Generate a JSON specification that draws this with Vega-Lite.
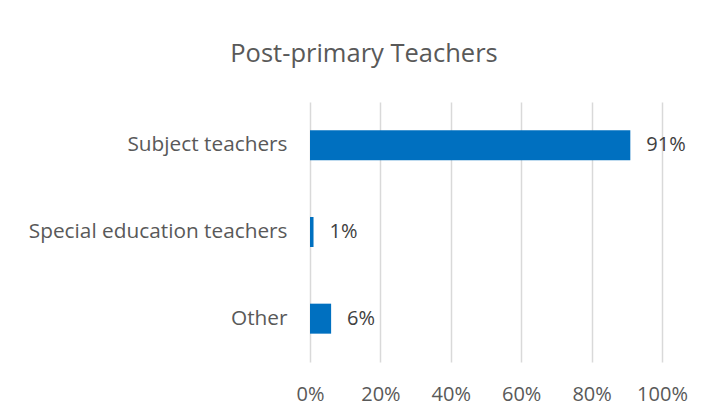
{
  "$schema": "https://vega.github.io/schema/vega-lite/v6.json",
  "autosize": "none",
  "width": 352,
  "height": 260,
  "padding": {"left": 310, "top": 102, "right": 47, "bottom": 55},
  "background": "white",
  "data": {"values": [
    {"category": "Subject teachers", "share": 0.91},
    {"category": "Special education teachers", "share": 0.01},
    {"category": "Other", "share": 0.06}
  ]},
  "title": {
    "text": "Post-primary Teachers",
    "font": "Open Sans",
    "fontSize": 25.5,
    "fontWeight": "normal",
    "color": "#595959",
    "anchor": "middle",
    "frame": "group",
    "dx": -122,
    "baseline": "alphabetic",
    "offset": 15
  },
  "encoding": {
    "y": {
      "field": "category",
      "type": "nominal",
      "sort": null,
      "scale": {"paddingInner": 0.654, "paddingOuter": 0.327},
      "axis": {
        "title": null,
        "ticks": false,
        "domain": false,
        "labelPadding": 23,
        "labelFont": "Open Sans",
        "labelFontSize": 20.8,
        "labelColor": "#595959",
        "labelLimit": 400
      }
    },
    "x": {
      "field": "share",
      "type": "quantitative",
      "scale": {"domain": [0, 1], "nice": false},
      "axis": {
        "title": null,
        "format": ".0%",
        "values": [0, 0.2, 0.4, 0.6, 0.8, 1],
        "ticks": false,
        "domain": false,
        "grid": true,
        "gridColor": "#d9d9d9",
        "gridWidth": 1.5,
        "labelPadding": 22,
        "labelFont": "Open Sans",
        "labelFontSize": 20,
        "labelColor": "#595959",
        "labelFlush": false
      }
    }
  },
  "layer": [
    {"mark": {"type": "bar", "color": "#0070C0"}},
    {
      "mark": {"type": "text", "align": "left", "baseline": "middle", "dx": 16, "font": "Open Sans", "fontSize": 20, "color": "#404040"},
      "encoding": {"text": {"field": "share", "type": "quantitative", "format": ".0%"}}
    }
  ],
  "config": {"view": {"stroke": null}}
}
